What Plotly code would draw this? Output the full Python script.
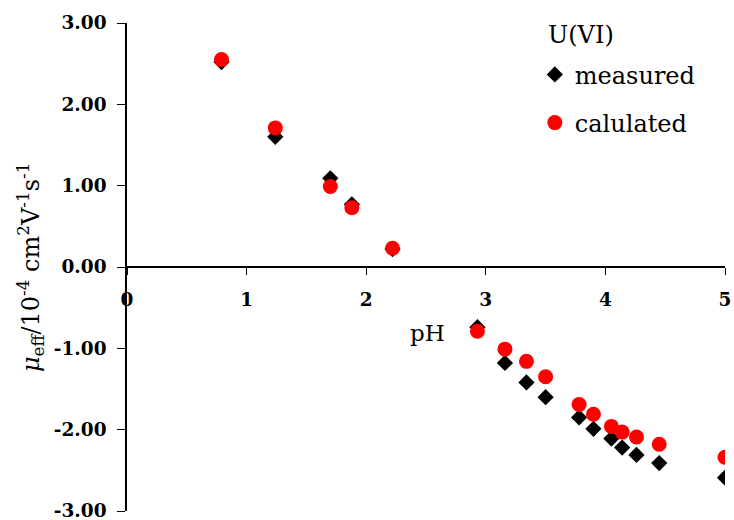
import plotly.graph_objects as go

ph = [0.79, 1.24, 1.70, 1.88, 2.22, 2.93, 3.16, 3.34, 3.50, 3.78, 3.90, 4.05, 4.14, 4.26, 4.45, 5.00]
measured = [2.52, 1.60, 1.09, 0.77, 0.22, -0.74, -1.18, -1.42, -1.60, -1.85, -1.99, -2.11, -2.22, -2.31, -2.41, -2.59]
calculated = [2.55, 1.71, 0.99, 0.73, 0.23, -0.79, -1.01, -1.16, -1.35, -1.69, -1.81, -1.96, -2.03, -2.09, -2.18, -2.34]
y_ticks = [-3, -2, -1, 0, 1, 2, 3]
y_ticklabels = ["-3.00", "-2.00", "-1.00", "0.00", "1.00", "2.00", "3.00"]
x_ticks = [0, 1, 2, 3, 4, 5]

FONT = "DejaVu Serif"

fig = go.Figure()
fig.add_trace(go.Scatter(x=ph, y=measured, mode="markers", name="measured",
                         legendgroup="a",
                         marker=dict(symbol="diamond", size=12.5, color="black")))
fig.add_trace(go.Scatter(x=ph, y=calculated, mode="markers", name="calulated",
                         legendgroup="b",
                         marker=dict(symbol="circle", size=15, color="red")))

fig.update_layout(
    width=734, height=520,
    margin=dict(l=127, r=9, t=23, b=9, autoexpand=False),
    paper_bgcolor="white", plot_bgcolor="white",
    font=dict(family=FONT, color="black"),
    legend=dict(x=0.682, y=0.94, xanchor="left", yanchor="top",
                font=dict(size=24, family=FONT),
                tracegroupgap=14, bgcolor="rgba(0,0,0,0)"),
    xaxis=dict(range=[0, 5], tickvals=x_ticks, showline=True, linecolor="black",
               linewidth=1.5, ticks="outside", ticklen=7, tickcolor="black",
               anchor="free", position=0.5, showgrid=False, zeroline=False,
               tickfont=dict(family=FONT, size=18.5, weight="bold"),
               ticklabelstandoff=9, ticklabeloverflow="allow", automargin=False),
    yaxis=dict(range=[-3, 3], tickvals=y_ticks, ticktext=y_ticklabels, showline=True,
               linecolor="black", linewidth=1.5, ticks="outside", ticklen=8,
               tickcolor="black", showgrid=False, zeroline=False,
               tickfont=dict(family=FONT, size=18.5, weight="bold"),
               ticklabelstandoff=7, ticklabeloverflow="allow", automargin=False),
)

fig.add_annotation(x=(581 - 127) / 598, y=(511 - 35) / 488, xref="paper", yref="paper",
                   text="U(VI)", showarrow=False, font=dict(family=FONT, size=24),
                   xanchor="center", yanchor="middle")
fig.add_annotation(x=2.51, y=-0.81, xref="x", yref="y", text="pH", showarrow=False,
                   font=dict(family=FONT, size=23))
fig.add_annotation(x=(30 - 127) / 598, y=(511 - 268) / 488, xref="paper", yref="paper",
                   textangle=-90, xanchor="center", yanchor="middle",
                   text="<i>μ</i><sub>eff</sub>/10<sup>-4</sup> cm<sup>2</sup>V<sup>-1</sup>s<sup>-1</sup>",
                   showarrow=False, font=dict(family=FONT, size=24))

fig.write_html("out.html")
